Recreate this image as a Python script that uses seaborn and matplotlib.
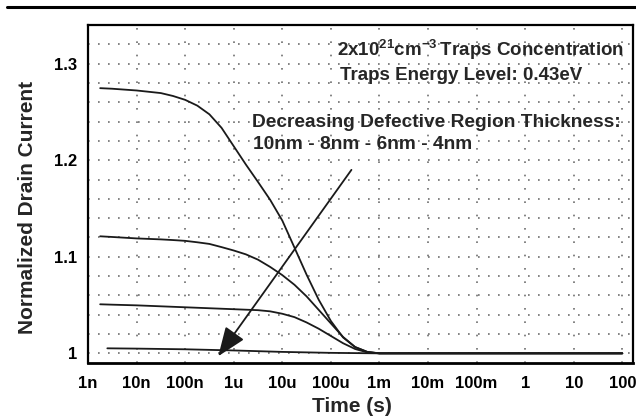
import numpy as np
import pandas as pd
import matplotlib
matplotlib.use("Agg")
import matplotlib.pyplot as plt
import matplotlib.ticker as mticker
from matplotlib.lines import Line2D
import seaborn as sns

# ---------------- data ----------------
t_grid = [1.78e-9, 3.16e-9, 1e-8, 3.16e-8, 5.62e-8, 1e-7, 1.78e-7, 3.16e-7, 5.62e-7,
          1e-6, 1.78e-6, 3.16e-6, 5.62e-6, 1e-5, 1.78e-5, 3.16e-5, 5.62e-5,
          1e-4, 1.78e-4, 3.16e-4, 5.62e-4, 1e-3, 1e2]

i_10nm = [1.2746, 1.2740, 1.2722, 1.2695, 1.2665, 1.2625, 1.2565, 1.2475, 1.2335,
          1.2145, 1.1955, 1.1775, 1.1590, 1.1375, 1.1095, 1.0815, 1.0555,
          1.0335, 1.0165, 1.0065, 1.0015, 1.0000, 1.0000]

i_8nm = [1.1212, 1.1205, 1.1190, 1.1180, 1.1173, 1.1165, 1.1150, 1.1133, 1.1100,
         1.1065, 1.1025, 1.0970, 1.0895, 1.0810, 1.0710, 1.0590, 1.0450,
         1.0310, 1.0170, 1.0065, 1.0015, 1.0000, 1.0000]

i_6nm = [1.0508, 1.0504, 1.0497, 1.0487, 1.0482, 1.0477, 1.0472, 1.0467, 1.0462,
         1.0457, 1.0452, 1.0447, 1.0435, 1.0410, 1.0375, 1.0320, 1.0255,
         1.0180, 1.0105, 1.0045, 1.0010, 1.0000, 1.0000]

t_4nm = [2.5e-9, 1e-8, 1e-7, 1e-6, 1e-5, 1e-4, 1e-3, 1e2]
i_4nm = [1.0052, 1.0049, 1.0042, 1.0030, 1.0015, 1.0005, 1.0000, 1.0000]

thickness = ["10nm", "8nm", "6nm", "4nm"]
x_tick_values = [1e-9, 1e-8, 1e-7, 1e-6, 1e-5, 1e-4, 1e-3, 1e-2, 1e-1, 1e0, 1e1, 1e2]
x_tick_labels = ["1n", "10n", "100n", "1u", "10u", "100u", "1m", "10m", "100m", "1", "10", "100"]
y_tick_values = [1.0, 1.1, 1.2, 1.3]
y_tick_labels = ["1", "1.1", "1.2", "1.3"]

arrow_start = (2.65e-4, 1.19)
arrow_end = (4.8e-7, 0.997)

frames = []
for name, ts, vs in zip(thickness, [t_grid, t_grid, t_grid, t_4nm], [i_10nm, i_8nm, i_6nm, i_4nm]):
    frames.append(pd.DataFrame({"Time": ts, "Current": vs, "Thickness": name}))
df = pd.concat(frames, ignore_index=True)

# ---------------- style ----------------
sns.set_style("white")
plt.rcParams["font.family"] = ["Liberation Sans", "DejaVu Sans"]
plt.rcParams["font.weight"] = "bold"
plt.rcParams["mathtext.fontset"] = "custom"
plt.rcParams["mathtext.rm"] = "Liberation Sans:bold"
plt.rcParams["mathtext.bf"] = "Liberation Sans:bold"
plt.rcParams["mathtext.default"] = "bf"

W, H = 636, 419
fig = plt.figure(figsize=(W / 100, H / 100), dpi=100)
ax = fig.add_axes([88 / W, (H - 363) / H, (633 - 88) / W, (363 - 25) / H])

sns.lineplot(data=df, x="Time", y="Current", hue="Thickness",
             palette=["#1a1a1a"] * 4, linewidth=1.3, legend=False, ax=ax,
             estimator=None, sort=False)

ax.set_xscale("log")
ax.set_xlim(1e-9, 10 ** 2.22)
ax.set_ylim(0.99, 1.34)

# ticks
ax.xaxis.set_major_locator(mticker.FixedLocator(x_tick_values))
ax.xaxis.set_major_formatter(mticker.FixedFormatter(x_tick_labels))
ax.xaxis.set_minor_locator(mticker.LogLocator(base=10, subs=[10 ** (k / 5) for k in range(1, 5)], numticks=30))
ax.xaxis.set_minor_formatter(mticker.NullFormatter())
ax.yaxis.set_major_locator(mticker.FixedLocator(y_tick_values))
ax.yaxis.set_major_formatter(mticker.FixedFormatter(y_tick_labels))
ax.yaxis.set_minor_locator(mticker.MultipleLocator(0.01))

# dotted grid
for xv in x_tick_values:
    ax.axvline(xv, color="#6e6e6e", lw=1.2, ls=(0, (1, 7)), zorder=0)
for yv in np.arange(1.0, 1.335, 0.02):
    ax.axhline(yv, color="#6e6e6e", lw=1.2, ls=(0, (1, 5)), zorder=0)

ax.tick_params(axis="both", which="major", direction="inout", length=8, width=1.2,
               labelsize=12, colors="black")
ax.tick_params(axis="both", which="minor", direction="in", length=4, width=1.0)
ax.tick_params(axis="x", which="major", pad=5)
ax.tick_params(axis="y", which="major", pad=4)
for lab in ax.get_xticklabels() + ax.get_yticklabels():
    lab.set_fontweight("bold")

for sp in ax.spines.values():
    sp.set_color("black")
    sp.set_linewidth(1.6)
ax.spines["bottom"].set_linewidth(2.0)

ax.set_xlabel("Time (s)", fontsize=15, fontweight="bold")
ax.xaxis.set_label_coords(0.484, -0.1006)
ax.set_ylabel("Normalized Drain Current", fontsize=15, fontweight="bold")
ax.yaxis.set_label_coords(-0.094, 0.459)

# arrow
ax.annotate("", xy=arrow_end, xytext=arrow_start,
            arrowprops=dict(arrowstyle="-|>,head_length=0.9,head_width=0.35",
                            color="#1a1a1a", lw=1.3, shrinkA=0, shrinkB=0,
                            mutation_scale=20))

# annotations
ax.text(0.457, 0.926, r"2x10$^{21}$cm$^{-3}$$\,$Traps Concentration", transform=ax.transAxes,
        ha="left", va="center", fontsize=13.5, fontweight="bold")
ax.text(0.462, 0.852, "Traps Energy Level: 0.43eV", transform=ax.transAxes,
        ha="left", va="center", fontsize=13.5, fontweight="bold")
ax.text(0.301, 0.712, "Decreasing Defective Region Thickness:", transform=ax.transAxes,
        ha="left", va="center", fontsize=13.8, fontweight="bold")
ax.text(0.302, 0.647, "10nm - 8nm - 6nm - 4nm", transform=ax.transAxes,
        ha="left", va="center", fontsize=13.8, fontweight="bold")

# top rule
fig.add_artist(Line2D([7 / W, 1.0], [1 - 7 / H, 1 - 7 / H], color="black", lw=2.2))

fig.savefig("out.png", dpi=100, facecolor="white")
